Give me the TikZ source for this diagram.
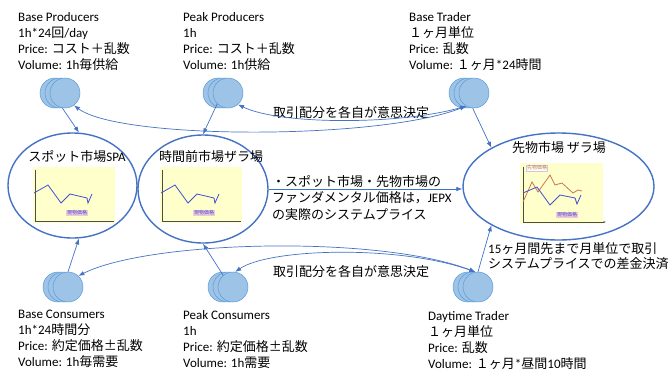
\documentclass[tikz,border=0pt]{standalone}
\usepackage{fontspec}
\setmainfont{Carlito}
\newfontfamily\jp{Noto Sans CJK JP}
\usetikzlibrary{arrows.meta,shapes.geometric,shadows}

\definecolor{agentfill}{RGB}{157,195,230}
\definecolor{agentline}{RGB}{91,155,213}
\definecolor{mktblue}{RGB}{68,114,196}
\definecolor{chartbg}{RGB}{255,255,204}
\definecolor{spotblue}{RGB}{70,80,210}
\definecolor{futorange}{RGB}{200,120,80}
\definecolor{tagpink}{RGB}{240,200,215}

\tikzset{
  agent/.style={circle, minimum size=30pt, inner sep=0pt, fill=agentfill, draw=agentline, line width=0.5pt,
    copy shadow={shadow xshift=-10pt, shadow yshift=0pt, fill=agentfill, draw=agentline},
    copy shadow={shadow xshift=-5pt, shadow yshift=0pt, fill=agentfill, draw=agentline}},
  market/.style={ellipse, draw=mktblue, line width=1.4pt, inner sep=0pt},
  flow/.style={draw=mktblue, line width=0.7pt, -{Latex[length=6pt,width=4.5pt]}},
  trade/.style={flow, {Latex[length=6pt,width=4.5pt]}-{Latex[length=6pt,width=4.5pt]}},
  note/.style={anchor=north west, inner sep=0pt, align=left, font=\fontsize{13}{16}\selectfont},
  mkttitle/.style={inner sep=0pt, font=\fontsize{13}{16}\selectfont},
  tag/.style={inner sep=0.6pt, font=\jp\fontsize{5}{5}\selectfont},
  spotchart/.pic={
    \fill[chartbg] (0,0) rectangle (82,56);
    \draw[gray!60!black, line width=0.5pt] (2,3) -- (2,54) -- (81,54);
    \draw[spotblue, line width=0.8pt] (1,26) -- (15,18) -- (28,36) -- (37,27) -- (54,31) -- (55,36) -- (59,27);
    \node[tag, fill=tagpink, text=spotblue] (-tag) at (44,46) {現物価格};
  },
  futchart/.pic={
    \fill[chartbg] (0,0) rectangle (83,61);
    \draw[gray!60!black, line width=0.5pt, -{Latex[length=2.5pt,width=2pt]}] (3,4) -- (3,59) -- (86,59);
    \draw[futorange, line width=0.8pt] (3,39) -- (12,19) -- (18,29) -- (30,12) -- (35,22) -- (42,20) -- (53,30) -- (58,27) -- (62,28);
    \draw[spotblue, line width=0.8pt] (3,30) -- (17,24) -- (30,42) -- (40,32) -- (55,35) -- (57,41) -- (61,32);
    \node[tag, fill=white, draw=gray!40, text=futorange] (-toptag) at (17,5) {先物価格};
    \node[tag, fill=tagpink, text=spotblue] (-tag) at (47,52) {現物価格};
  },
}

\begin{document}
\begin{tikzpicture}[x=1pt, y=-1pt]
  \useasboundingbox[fill=white] (0,0) rectangle (670,370);

  % players
  \node[agent] (bp) at (65,93) {};
  \node[agent] (pp) at (228,93) {};
  \node[agent] (bt) at (474,93) {};
  \node[agent] (bc) at (68,287) {};
  \node[agent] (pc) at (233,287) {};
  \node[agent] (dt) at (478,287) {};

  % markets
  \node[market, minimum width=129pt, minimum height=105pt] (spa) at (72.5,185.5) {};
  \node[market, minimum width=130pt, minimum height=108pt] (zara) at (203,189) {};
  \node[market, minimum width=191pt, minimum height=107pt] (fut) at (558.5,186.5) {};

  \node[mkttitle] (spatitle) at (77,157) {{\jp スポット市場}SPA};
  \node[mkttitle] (zaratitle) at (211,157) {\jp 時間前市場ザラ場};
  \node[mkttitle] (futtitle) at (559,148) {\jp 先物市場 ザラ場};

  \pic (spachart) at (33,167) {spotchart};
  \pic (zarachart) at (160,167) {spotchart};
  \pic (futchart) at (520,163) {futchart};

  % texts
  \node[note] (bptext) at (18,12) {Base Producers\\1h*24{\jp 回}/day\\Price: {\jp コスト＋乱数}\\Volume: 1h{\jp 毎供給}};
  \node[note] (pptext) at (183,12) {Peak Producers\\1h\\Price: {\jp コスト＋乱数}\\Volume: 1h{\jp 供給}};
  \node[note] (bttext) at (409,12) {Base Trader\\{\jp １ヶ月単位}\\Price: {\jp 乱数}\\Volume: {\jp １ヶ月}*24{\jp 時間}};
  \node[note] (bctext) at (18,310) {Base Consumers\\1h*24{\jp 時間分}\\Price: {\jp 約定価格±乱数}\\Volume: 1h{\jp 毎需要}};
  \node[note] (pctext) at (183,310) {Peak Consumers\\1h\\Price: {\jp 約定価格±乱数}\\Volume: 1h{\jp 需要}};
  \node[note] (dttext) at (428,311) {Daytime Trader\\{\jp １ヶ月単位}\\Price: {\jp 乱数}\\Volume: {\jp １ヶ月}*{\jp 昼間}10{\jp 時間}};

  \node[note, font=\jp\fontsize{13}{16.5}\selectfont] (fundtext) at (272,175) {・スポット市場・先物市場の\\ファンダメンタル価格は，{\rmfamily JEPX}\\の実際のシステムプライス};
  \node[note, font=\jp\fontsize{13}{16}\selectfont] (uptext) at (273,106) {取引配分を各自が意思決定};
  \node[note, font=\jp\fontsize{13}{16}\selectfont] (lowtext) at (273,265) {取引配分を各自が意思決定};
  \node[note, font=\fontsize{13}{15.5}\selectfont] (fwdtext) at (488,242) {15{\jp ヶ月間先まで月単位で取引}\\{\jp システムプライスでの差金決済}};

  % connectors
  \draw[flow] (bp.-100) -- (spa.83);
  \draw[flow] (pp.-135) -- (zara.north);
  \draw[flow] (bt.-95) -- (fut.150);
  \draw[flow] (bc.north) -- (spa.-83);
  \draw[flow] (pc.130) -- (zara.south);
  \draw[flow] (dt.north) -- (fut.-150);
  \draw[flow] (zara.east) -- (zara.east -| fut.west);
  \draw[trade] (bp.-54) .. controls (120,140) and (380,140) .. (bt.-121);
  \draw[trade] (pp.-49) .. controls (280,125) and (400,125) .. (bt.-121);
  \draw[trade] (bc.47) .. controls (150,240) and (380,235) .. (dt.100);
  \draw[trade] (pc.82) .. controls (270,248) and (400,245) .. (dt.100);
\end{tikzpicture}
\end{document}
